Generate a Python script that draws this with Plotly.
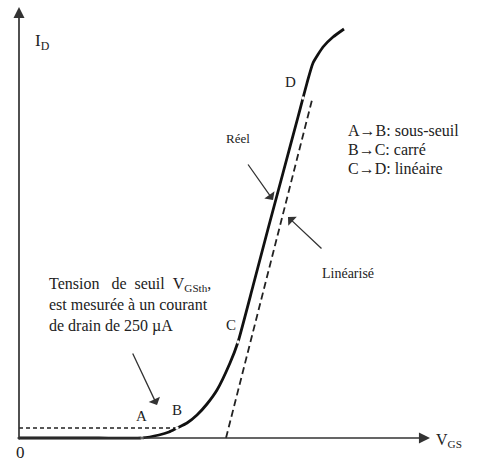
import plotly.graph_objects as go

# Data in diagram units: VGS (arbitrary) and ID (arbitrary), origin at axes crossing
real_vgs = [0, 40, 80, 123, 140, 150, 158, 168, 178, 188, 198, 211, 219,
            234, 249, 264, 279, 284, 288, 294, 304, 314, 325]
real_id = [0, 0, 0, 0, 3, 6, 10, 15, 23, 34, 48, 75, 96,
           152, 209, 265, 321, 340, 355, 375, 391, 401, 409]

lin_vgs = [207, 293]
lin_id = [0, 338]

thr_vgs = [0, 158]
thr_id = [10, 10]

point_labels = ["A", "B", "C", "D"]
point_vgs = [123, 158, 219, 284]
point_id = [0, 10, 96, 340]

phase_text = ["A\u2192B: sous-seuil", "B\u2192C: carré", "C\u2192D: linéaire"]

X0, Y0 = 19, 438  # page pixel of origin
W, H = 477, 463

fig = go.Figure()
fig.add_trace(go.Scatter(x=thr_vgs, y=thr_id, mode="lines",
                         line=dict(color="#222", width=1.6, dash="4px,3px"),
                         hoverinfo="skip"))
fig.add_trace(go.Scatter(x=lin_vgs, y=lin_id, mode="lines",
                         line=dict(color="#222", width=1.8, dash="7px,4px"),
                         hoverinfo="skip"))
fig.add_trace(go.Scatter(x=real_vgs, y=real_id, mode="lines",
                         line=dict(color="#111", width=2.8, shape="spline", smoothing=0.5),
                         hoverinfo="skip"))
fig.add_trace(go.Scatter(x=point_vgs, y=point_id, mode="markers",
                         marker=dict(color="white", size=3.5,
                                     line=dict(color="#111", width=0)),
                         hoverinfo="skip"))

SERIF = "Liberation Serif"
NB = "\u00a0"
ann = []
# axes arrows
ann.append(dict(x=411, y=0, ax=-3, ay=0, xref="x", yref="y", axref="x", ayref="y",
                showarrow=True, arrowhead=2, arrowsize=1.3, arrowwidth=1.7,
                arrowcolor="#333", text=""))
ann.append(dict(x=0, y=431, ax=0, ay=-3, xref="x", yref="y", axref="x", ayref="y",
                showarrow=True, arrowhead=2, arrowsize=1.3, arrowwidth=1.7,
                arrowcolor="#333", text=""))
# axis labels
ann.append(dict(x=23, y=396, xref="x", yref="y", showarrow=False, xanchor="center",
                text="I<sub>D</sub>", font=dict(family=SERIF, size=17, color="#222")))
ann.append(dict(x=430, y=-2, xref="x", yref="y", showarrow=False, xanchor="center",
                text="V<sub>GS</sub>", font=dict(family=SERIF, size=16, color="#222")))
ann.append(dict(x=1, y=-14, xref="x", yref="y", showarrow=False,
                text="0", font=dict(family=SERIF, size=17, color="#222")))
# point labels
offs = [(-1, 22), (0, 18), (-7, 17), (-13, 16)]
for lab, vx, vy, (dx, dy) in zip(point_labels, point_vgs, point_id, offs):
    ann.append(dict(x=vx + dx, y=vy + dy, xref="x", yref="y", showarrow=False,
                    text=lab, font=dict(family=SERIF, size=15, color="#222")))
# phase text
for i, t in enumerate(phase_text):
    ann.append(dict(x=327, y=308 - i * 19, xref="x", yref="y", showarrow=False,
                    xanchor="left", text=t, font=dict(family=SERIF, size=16, color="#222")))
# threshold note
note = ("Tension" + NB * 3 + "de" + NB * 2 + "seuil" + NB * 2 + "V<sub>GSth</sub>,<br>"
        "est mesurée à un courant<br>"
        "de drain de 250 µA")
ann.append(dict(x=28, y=133, xref="x", yref="y", showarrow=False, xanchor="left",
                yanchor="middle", align="left", text=note,
                font=dict(family=SERIF, size=16, color="#222")))
ann.append(dict(x=138, y=33, ax=113, ay=86, xref="x", yref="y", axref="x", ayref="y",
                showarrow=True, arrowhead=1, arrowsize=1.6, arrowwidth=1.3,
                arrowcolor="#333", text=""))
# Réel
ann.append(dict(x=219, y=300, xref="x", yref="y", showarrow=False,
                text="Réel", font=dict(family=SERIF, size=13, color="#222")))
ann.append(dict(x=254, y=238, ax=228, ay=275, xref="x", yref="y", axref="x", ayref="y",
                showarrow=True, arrowhead=1, arrowsize=1.6, arrowwidth=1.3,
                arrowcolor="#333", text=""))
# Linéarisé
ann.append(dict(x=329, y=165, xref="x", yref="y", showarrow=False,
                text="Linéarisé", font=dict(family=SERIF, size=14, color="#222")))
ann.append(dict(x=269, y=221, ax=304, ay=188, xref="x", yref="y", axref="x", ayref="y",
                showarrow=True, arrowhead=1, arrowsize=1.6, arrowwidth=1.3,
                arrowcolor="#333", text=""))

fig.update_layout(
    width=W, height=H, margin=dict(l=0, r=0, t=0, b=0),
    paper_bgcolor="white", plot_bgcolor="white", showlegend=False,
    annotations=ann,
    xaxis=dict(range=[-X0, W - X0], visible=False, fixedrange=True),
    yaxis=dict(range=[Y0 - H, Y0], visible=False, fixedrange=True),
)
fig.write_html("out.html", config={"displayModeBar": False},
               post_script="document.body.style.margin='0';document.body.style.overflow='hidden';")
